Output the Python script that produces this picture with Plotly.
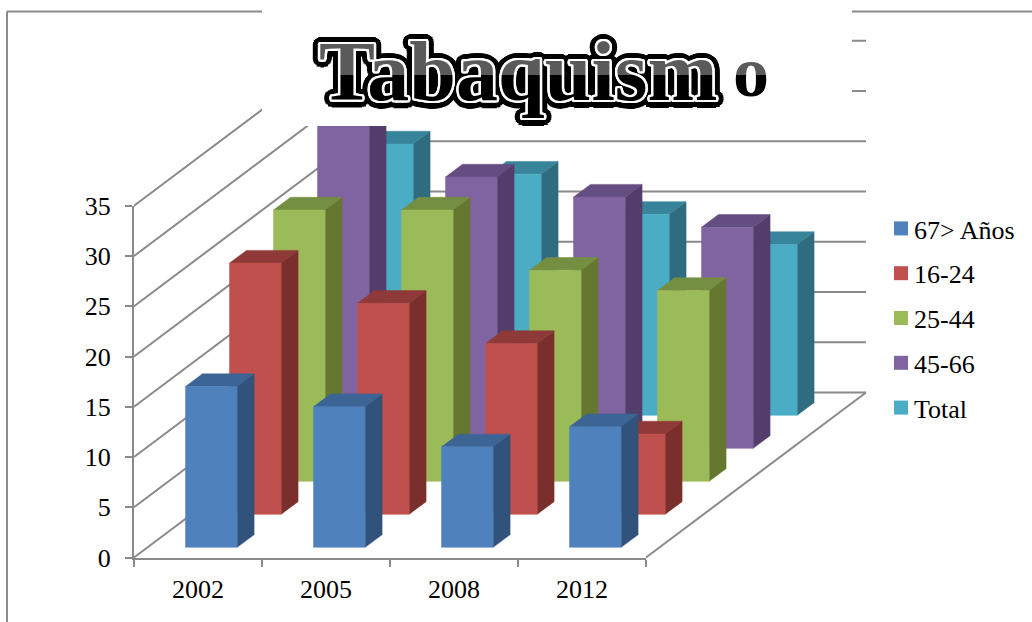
import math
import plotly.graph_objects as go

categories = ["2002", "2005", "2008", "2012"]
series_names = ["67> Años", "16-24", "25-44", "45-66", "Total"]
values_67 = [16, 14, 10, 12]
values_16 = [25, 21, 17, 8]
values_25 = [27, 27, 21, 19]
values_45 = [33, 27, 25, 22]
values_total = [27, 24, 20, 17]
y_ticks = [0, 5, 10, 15, 20, 25, 30, 35]

all_values = [values_67, values_16, values_25, values_45, values_total]
front_colors = ["#4F81BD", "#C0504D", "#9BBB59", "#8064A2", "#4BACC6"]
side_colors = ["#31527A", "#7A2F2D", "#66782F", "#533E6B", "#2F6C80"]
top_colors = ["#3C6494", "#8F3A38", "#748F42", "#644D80", "#38849A"]

W, H = 1032, 622
ORIGIN_X, ORIGIN_Y = 134.0, 557.5
CAT_PX, UNIT_PX = 128.0, 10.05
DEPTH_X, DEPTH_Y = 44.0 / CAT_PX, 33.0 / UNIT_PX  # one depth slot, in axis units
BAR_FROM, BAR_TO = 0.297, 0.700
DEPTH_FROM, DEPTH_TO = 0.307, 0.693
GRID = "#8A8A8A"
SERIF = "Liberation Serif"


def project(cat, value, depth):
    return cat + depth * DEPTH_X, value + depth * DEPTH_Y


def face(points, color):
    xs, ys = zip(*[project(*p) for p in points])
    return go.Scatter(
        x=list(xs) + [xs[0]], y=list(ys) + [ys[0]], mode="lines", fill="toself",
        fillcolor=color, line=dict(width=0.5, color=color), hoverinfo="skip",
        showlegend=False, xaxis="x", yaxis="y",
    )


fig = go.Figure()

# walls
n_cat, n_series = len(categories), len(series_names)
for t in y_ticks:
    xs, ys = zip(project(0, t, 0), project(0, t, n_series), project(n_cat, t, n_series))
    fig.add_trace(go.Scatter(x=xs, y=ys, mode="lines", line=dict(color=GRID, width=2),
                             hoverinfo="skip", showlegend=False, xaxis="x", yaxis="y"))
xs, ys = zip(project(n_cat, 0, 0), project(n_cat, 0, n_series))
fig.add_trace(go.Scatter(x=xs, y=ys, mode="lines", line=dict(color=GRID, width=2),
                         hoverinfo="skip", showlegend=False, xaxis="x", yaxis="y"))

# bars, back to front
for s in reversed(range(n_series)):
    for c in range(n_cat):
        v = all_values[s][c]
        x0, x1 = c + BAR_FROM, c + BAR_TO
        d0, d1 = s + DEPTH_FROM, s + DEPTH_TO
        fig.add_trace(face([(x1, 0, d0), (x1, 0, d1), (x1, v, d1), (x1, v, d0)], side_colors[s]))
        fig.add_trace(face([(x0, v, d0), (x1, v, d0), (x1, v, d1), (x0, v, d1)], top_colors[s]))
        fig.add_trace(face([(x0, 0, d0), (x1, 0, d0), (x1, v, d0), (x0, v, d0)], front_colors[s]))

# legend entries, on the visible axes
for name, color in zip(series_names, front_colors):
    fig.add_trace(go.Scatter(x=[None], y=[None], mode="markers", name=name, legendgroup=name,
                             marker=dict(symbol="square", size=14, color=color, line=dict(width=0)),
                             xaxis="x2", yaxis="y2"))

white = [f"{r*math.cos(a*math.pi/8):.1f}px {r*math.sin(a*math.pi/8):.1f}px 0 #fff" for r in (1.2, 2.4) for a in range(16)]
black = [f"{r*math.cos(a*math.pi/12):.1f}px {r*math.sin(a*math.pi/12):.1f}px 0 #000" for r in (4.5, 7.5) for a in range(24)]
outline = ", ".join(white + black)

fig.update_layout(
    width=W, height=H, margin=dict(l=0, r=0, t=0, b=0, autoexpand=False),
    paper_bgcolor="white", plot_bgcolor="rgba(0,0,0,0)",
    font=dict(family=SERIF, size=26, color="black"),
    showlegend=True,
    legend=dict(x=888 / W, xanchor="left", y=1 - 205 / H, yanchor="top", bgcolor="rgba(0,0,0,0)",
                tracegroupgap=8, indentation=-14, font=dict(family=SERIF, size=26)),
    xaxis=dict(range=[(0 - ORIGIN_X) / CAT_PX, (W - ORIGIN_X) / CAT_PX], domain=[0, 1], visible=False, fixedrange=True),
    yaxis=dict(range=[(ORIGIN_Y - H) / UNIT_PX, ORIGIN_Y / UNIT_PX], domain=[0, 1], visible=False, fixedrange=True),
    xaxis2=dict(domain=[ORIGIN_X / W, (ORIGIN_X + n_cat * CAT_PX) / W], anchor="y2", range=[0, n_cat],
                showgrid=False, zeroline=False, showline=True, linecolor=GRID, linewidth=2,
                tickmode="array", tickvals=[i + 0.5 for i in range(n_cat)], ticktext=categories, ticks="",
                ticklabelstandoff=7, tickfont=dict(family=SERIF, size=26, color="black"),
                minor=dict(tickmode="array", tickvals=list(range(n_cat + 1)), ticks="outside", ticklen=7,
                           tickwidth=2, tickcolor=GRID, showgrid=False),
                fixedrange=True),
    yaxis2=dict(domain=[(H - ORIGIN_Y) / H, (H - ORIGIN_Y + 35 * UNIT_PX) / H], anchor="x2", range=[0, 35],
                showgrid=False, zeroline=False, showline=True, linecolor=GRID, linewidth=2,
                tickmode="array", tickvals=y_ticks, ticks="outside", ticklen=7, tickwidth=2, tickcolor=GRID,
                ticklabelstandoff=9, tickfont=dict(family=SERIF, size=26, color="black"), fixedrange=True),
    shapes=[
        dict(type="line", xref="paper", yref="paper", x0=7 / W, x1=7 / W, y0=0, y1=1 - 11.5 / H,
             line=dict(color=GRID, width=2), layer="below"),
        dict(type="line", xref="paper", yref="paper", x0=7 / W, x1=1, y0=1 - 11.5 / H, y1=1 - 11.5 / H,
             line=dict(color=GRID, width=2), layer="below"),
        dict(type="rect", xref="paper", yref="paper", x0=262 / W, x1=852 / W, y0=1 - 126 / H, y1=1,
             fillcolor="white", line=dict(width=0), layer="above"),
    ],
    annotations=[
        dict(text="<b>Tabaquism</b>", xref="paper", yref="paper", x=518 / W, y=1 - 72 / H, showarrow=False,
             xanchor="center", yanchor="middle",
             font=dict(family=SERIF, size=84, color="#000", shadow=outline)),
        dict(text="<b>o</b>", xref="paper", yref="paper", x=751 / W, y=1 - 72 / H, showarrow=False,
             xanchor="center", yanchor="middle", font=dict(family=SERIF, size=72, color="#000")),
    ],
)

page_js = """
var svg = document.querySelector('.main-svg');
var ns = 'http://www.w3.org/2000/svg';
var defs = document.querySelector('defs') || svg.appendChild(document.createElementNS(ns, 'defs'));
var g = document.createElementNS(ns, 'linearGradient');
g.setAttribute('id', 'titlefill'); g.setAttribute('x1', '0'); g.setAttribute('y1', '0');
g.setAttribute('x2', '0'); g.setAttribute('y2', '1');
[['0', '#5a5a5a'], ['0.54', '#5a5a5a'], ['0.54', '#000'], ['1', '#000']].forEach(function (s) {
  var st = document.createElementNS(ns, 'stop');
  st.setAttribute('offset', s[0]); st.setAttribute('stop-color', s[1]); g.appendChild(st);
});
defs.appendChild(g);
document.querySelectorAll('.annotation-text').forEach(function (t) {
  t.style.fill = 'url(#titlefill)';
});
document.querySelectorAll('.legend .legendsymbols').forEach(function (t) {
  t.setAttribute('transform', 'translate(7,0)');
});
"""
fig.write_html("out.html", config=dict(displayModeBar=False),
               post_script="document.body.style.margin='0';" + page_js)
